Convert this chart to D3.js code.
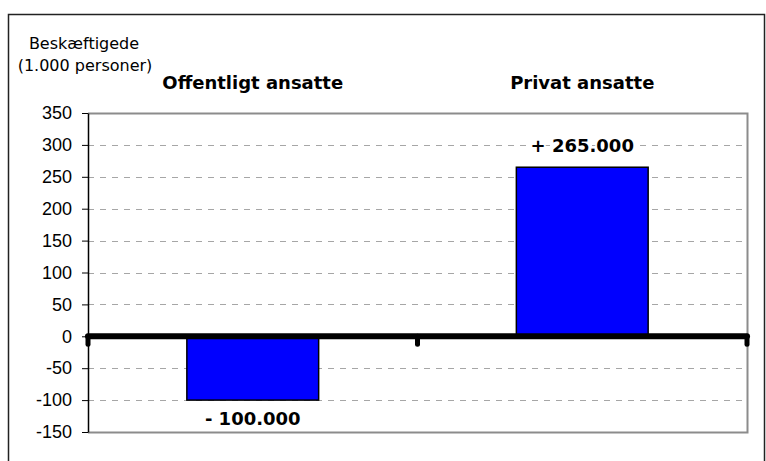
<!DOCTYPE html>
<html>
<head>
<meta charset="utf-8">
<script src="https://cdn.jsdelivr.net/npm/d3@7"></script>
<style>
  body { margin: 0; background: #fff; }
  svg { font-family: "DejaVu Sans", Verdana, sans-serif; }
</style>
</head>
<body>
<div id="holder"></div>
<script>
var categories = ['Offentligt ansatte', 'Privat ansatte'];
var values = [-100, 265];
var valueLabels = ['- 100.000', '+ 265.000'];
var yTicks = [-150, -100, -50, 0, 50, 100, 150, 200, 250, 300, 350];

function generateChart(){
  var fullWidth = 766;
  var fullHeight = 461;
  var margin = {top: 113, right: 19, bottom: 29, left: 88};
  var width = fullWidth - margin.left - margin.right;
  var height = fullHeight - margin.top - margin.bottom;

  var root = d3.select('#holder').append('svg')
    .attr('width', fullWidth)
    .attr('height', fullHeight);

  // outer frame
  root.append('rect')
    .attr('x', 8.5).attr('y', 14.5)
    .attr('width', 756).attr('height', 460)
    .attr('fill', 'none')
    .attr('stroke', '#222')
    .attr('stroke-width', 1.5);

  // axis title
  var title = root.append('text')
    .attr('text-anchor', 'middle')
    .attr('font-size', 16)
    .attr('fill', '#000');
  title.append('tspan').attr('x', 84).attr('y', 49).text('Beskæftigede');
  title.append('tspan').attr('x', 85).attr('y', 71).text('(1.000 personer)');

  var svg = root.append('g')
    .attr('transform', 'translate(' + margin.left + ',' + margin.top + ')');

  var yScale = d3.scaleLinear()
    .domain([-150, 350])
    .range([height, 0]);

  var xScale = d3.scaleBand()
    .domain(categories)
    .range([0, width])
    .paddingInner(0.6)
    .paddingOuter(0.3);

  // gridlines
  svg.append('g')
    .selectAll('line')
    .data(yTicks.filter(function(d){ return d !== -150 && d !== 350 && d !== 0; }))
    .enter().append('line')
      .attr('x1', 0).attr('x2', width)
      .attr('y1', function(d){ return Math.round(yScale(d)) + 0.5; })
      .attr('y2', function(d){ return Math.round(yScale(d)) + 0.5; })
      .attr('stroke', '#a6a6a6')
      .attr('stroke-dasharray', '6,6');

  // plot area border (top, right, bottom)
  svg.append('path')
    .attr('d', 'M0,' + (yScale(350) + 0.5) + 'H' + (width + 0.5) + 'V' + (height + 0.5) + 'H0')
    .attr('fill', 'none')
    .attr('stroke', '#8c8c8c')
    .attr('stroke-width', 2);

  // bars
  svg.append('g')
    .selectAll('rect')
    .data(values)
    .enter().append('rect')
      .attr('x', function(d, i){ return xScale(categories[i]); })
      .attr('width', xScale.bandwidth())
      .attr('y', function(d){ return yScale(Math.max(0, d)); })
      .attr('height', function(d){ return Math.abs(yScale(d) - yScale(0)); })
      .attr('fill', '#0000ff')
      .attr('stroke', '#000')
      .attr('stroke-width', 1.5);

  // y axis
  var yAxis = d3.axisLeft(yScale)
    .tickValues(yTicks)
    .tickFormat(function(d){ return String(d); })
    .tickSize(6)
    .tickSizeOuter(0)
    .tickPadding(10);
  var ya = svg.append('g')
    .classed('y axis', true)
    .call(yAxis);
  ya.select('.domain').attr('stroke', '#000').attr('stroke-width', 1.5);
  ya.selectAll('.tick line').attr('stroke', '#000');
  ya.selectAll('.tick text').attr('font-size', 18).attr('fill', '#000');

  // zero line with category ticks
  var zero = yScale(0);
  var catTicks = [0, xScale.step(), width];
  svg.append('g')
    .selectAll('line')
    .data(catTicks)
    .enter().append('line')
      .attr('x1', function(d){ return d; }).attr('x2', function(d){ return d; })
      .attr('y1', zero).attr('y2', zero + 8)
      .attr('stroke', '#000')
      .attr('stroke-width', 5)
      .attr('stroke-linecap', 'round');
  svg.append('line')
    .attr('x1', 0).attr('x2', width)
    .attr('y1', zero).attr('y2', zero)
    .attr('stroke', '#000')
    .attr('stroke-width', 6)
    .attr('stroke-linecap', 'round');

  // category labels
  svg.append('g')
    .selectAll('text')
    .data(categories)
    .enter().append('text')
      .attr('x', function(d){ return xScale(d) + xScale.bandwidth() / 2; })
      .attr('y', -24)
      .attr('text-anchor', 'middle')
      .attr('font-size', 18)
      .attr('font-weight', 'bold')
      .text(function(d){ return d; });

  // value labels
  svg.append('g')
    .selectAll('text')
    .data(values)
    .enter().append('text')
      .attr('x', function(d, i){ return xScale(categories[i]) + xScale.bandwidth() / 2; })
      .attr('y', function(d){ return d >= 0 ? yScale(d) - 15 : yScale(d) + 25; })
      .attr('text-anchor', 'middle')
      .attr('font-size', 18)
      .attr('font-weight', 'bold')
      .attr('fill', '#000')
      .attr('stroke', '#fff')
      .attr('stroke-width', 4)
      .attr('paint-order', 'stroke')
      .text(function(d, i){ return valueLabels[i]; });
}

generateChart();
</script>
</body>
</html>
